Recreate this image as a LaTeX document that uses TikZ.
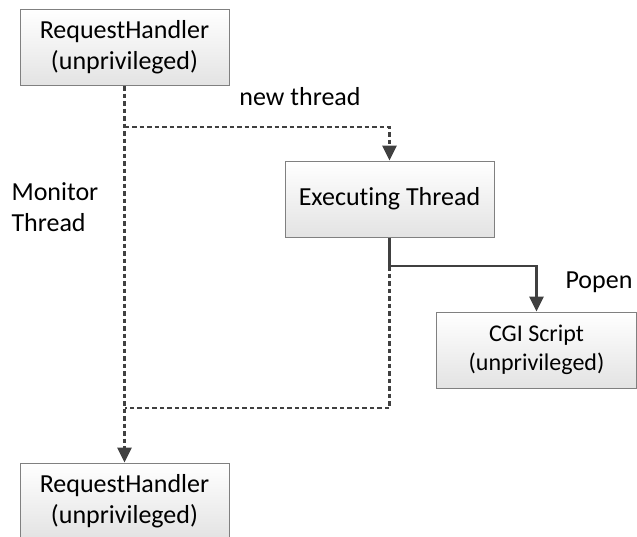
\documentclass[tikz,border=0pt]{standalone}
\usepackage{fontspec}
\setmainfont{Carlito}[Ligatures=NoCommon]
\usetikzlibrary{arrows.meta,positioning}
\definecolor{wire}{HTML}{404040}
\definecolor{frame}{HTML}{808080}

\begin{document}
\begin{tikzpicture}[x=1pt,y=-1pt,
   font=\fontsize{26}{31}\selectfont,
   box/.style={draw=frame,line width=1pt,top color=white,bottom color=black!11,
               minimum width=209pt,minimum height=76pt,align=center,inner sep=0pt},
   flow/.style={draw=wire,line width=2.8pt,-{Triangle[length=15pt,width=14pt]}},
   dashflow/.style={flow,dash pattern=on 4.5pt off 3pt},
   dashwire/.style={draw=wire,line width=2.8pt,dash pattern=on 4.5pt off 3pt}]
  \useasboundingbox (0,0) rectangle (637,536);
  % boxes
  \node[box] (rh1) at (124.5,47.5) {RequestHandler\\(unprivileged)};
  \node[box] (exec) at (389.5,199) {Executing Thread};
  \node[box,minimum width=200pt,font=\fontsize{24}{29}\selectfont] (cgi) at (536.5,350)
       {CGI Script\\(unprivileged)};
  \node[box] (rh2) at (124.5,501) {RequestHandler\\(unprivileged)};
  % branch points
  \coordinate (fork) at (124.5,127);
  \coordinate (split) at (389.5,266);
  \coordinate (join) at (124.5,408);
  % connectors
  \draw[dashflow] (rh1.south) -- (rh2.north);
  \draw[dashflow] (fork) -| (exec.north);
  \draw[flow] (exec.south) -- (split) -| (cgi.north);
  \draw[dashwire] (split) -- (split |- join) -- (join);
  % labels
  \node (newlbl) at (300,97) {new thread};
  \node[anchor=west,align=left] (monlbl) at (8,207) {Monitor\\Thread};
  \node[anchor=west] (popenlbl) at (562,282) {Popen};
\end{tikzpicture}
\end{document}
